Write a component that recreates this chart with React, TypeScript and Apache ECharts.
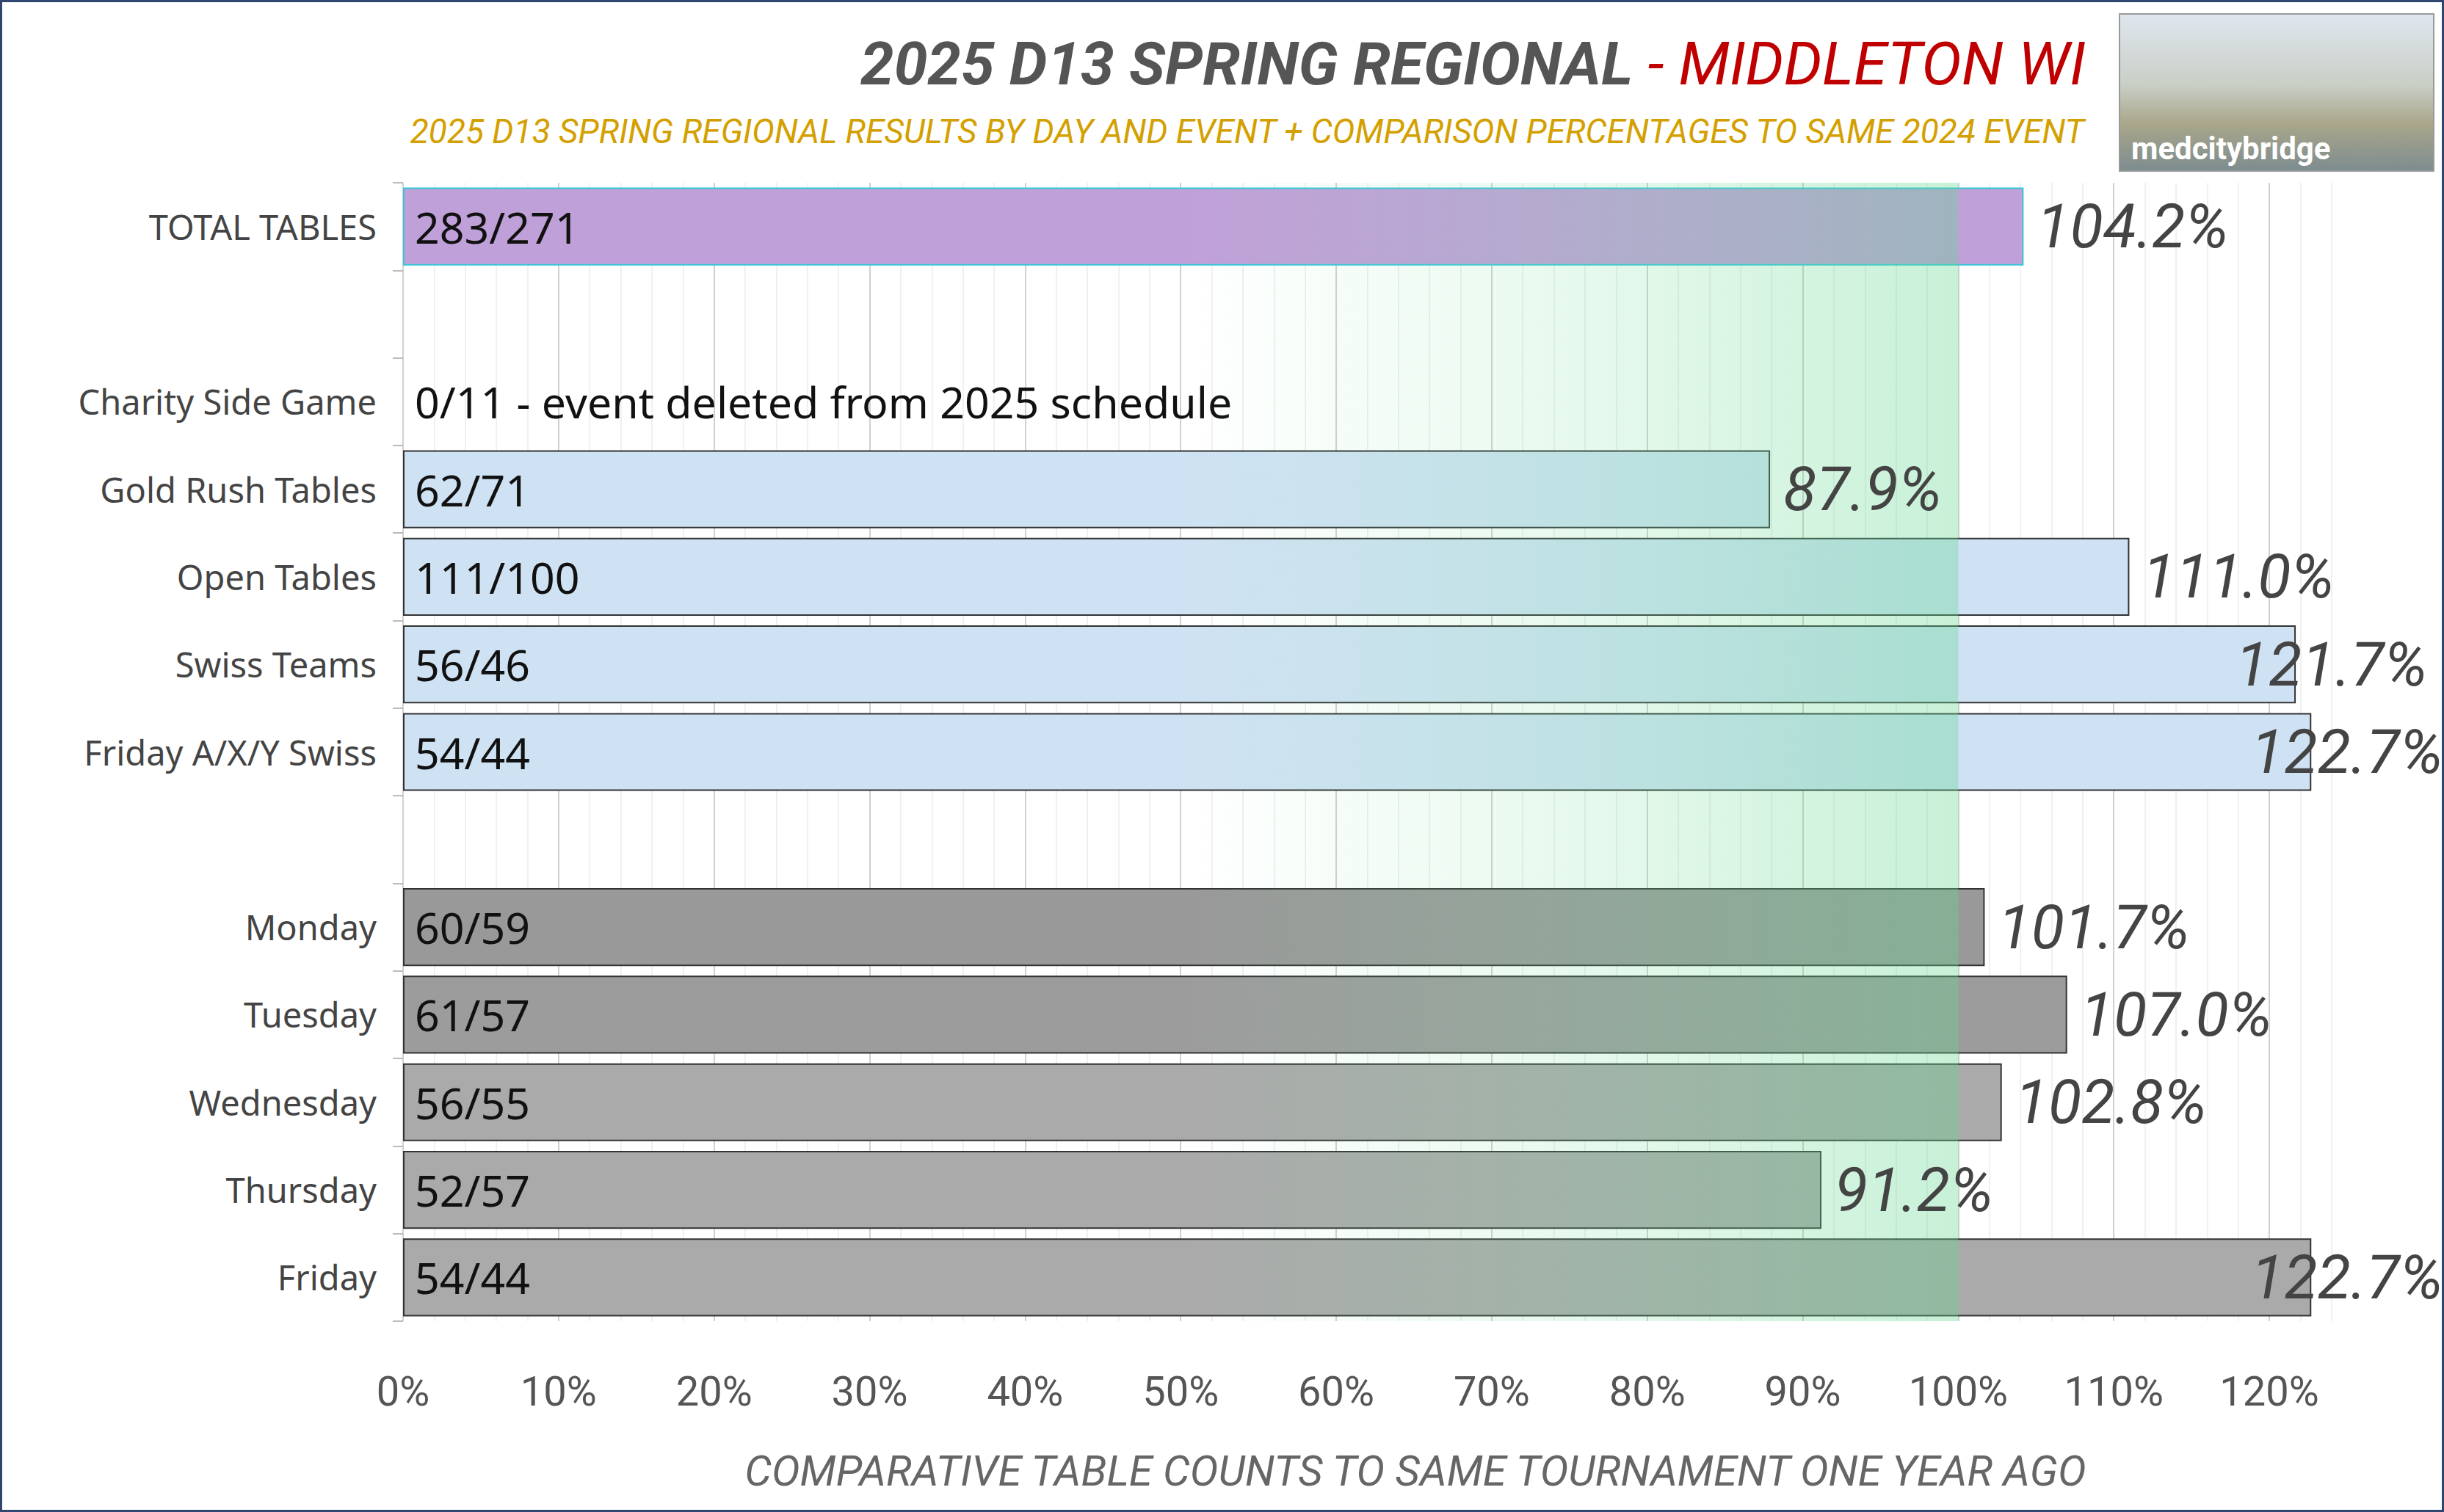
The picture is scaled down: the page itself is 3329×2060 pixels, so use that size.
import React, { useEffect, useRef } from "react";
import * as echarts from "echarts";

const categories = ["TOTAL TABLES", "", "Charity Side Game", "Gold Rush Tables", "Open Tables", "Swiss Teams", "Friday A/X/Y Swiss", " ", "Monday", "Tuesday", "Wednesday", "Thursday", "Friday"];
const percentValues: (number | null)[] = [104.2, null, 0, 87.9, 111.0, 121.7, 122.7, null, 101.7, 107.0, 102.8, 91.2, 122.7];
const countLabels = ["283/271", "", "0/11 - event deleted from 2025 schedule", "62/71", "111/100", "56/46", "54/44", "", "60/59", "61/57", "56/55", "52/57", "54/44"];
const barColors = ["#c0a0d8", "", "#cfe2f3", "#cfe2f3", "#cfe2f3", "#cfe2f3", "#cfe2f3", "", "#999999", "#9c9c9c", "#aaaaaa", "#aaaaaa", "#aaaaaa"];
const xTicks = [0, 10, 20, 30, 40, 50, 60, 70, 80, 90, 100, 110, 120];

export default function App() {
  const ref = useRef<HTMLDivElement>(null);
  useEffect(() => {
    const chart = echarts.init(ref.current!, null, { renderer: "svg" });
    const rev = (a: any[]) => a.slice().reverse();
    const cats = rev(categories);
    const vals = rev(percentValues);
    const counts = rev(countLabels);
    const cols = rev(barColors);
    const mainData = vals.map((v, i) => {
      if (v === null) return { value: null };
      const isTotal = cats[i] === "TOTAL TABLES";
      const isCharity = cats[i] === "Charity Side Game";
      return {
        value: v,
        itemStyle: {
          color: cols[i],
          borderColor: isTotal ? "#33c6d8" : "#333333",
          borderWidth: isCharity ? 0 : 2,
        },
        label: isCharity ? { position: "right", distance: 16 } : undefined,
      };
    });
    const pctData = vals.map((v) => {
      if (v === null || v === 0) return { value: null };
      return { value: v, label: v > 120 ? { offset: [-100, 0] } : undefined };
    });
    const splitColors = xTicks.map(() => "#d0d0d0").concat(["rgba(0,0,0,0)"]);
    chart.setOption({
      animation: false,
      backgroundColor: "#ffffff",
      grid: { left: 546, right: 129, top: 246, bottom: 257, containLabel: false },
      title: [
        {
          text: "{a|2025 D13 SPRING REGIONAL}{b| - MIDDLETON WI}",
          right: 480, top: 38,
          textStyle: {
            rich: {
              a: { fontFamily: "Roboto", fontSize: 82, fontWeight: "bold", fontStyle: "italic", color: "#555555" },
              b: { fontFamily: "Roboto", fontSize: 82, fontWeight: "normal", fontStyle: "italic", color: "#c00000" },
            },
          },
        },
        {
          text: "2025 D13 SPRING REGIONAL RESULTS BY DAY AND EVENT + COMPARISON PERCENTAGES TO SAME 2024 EVENT",
          right: 480, top: 148,
          textStyle: { fontFamily: "Roboto", fontSize: 46, fontStyle: "italic", fontWeight: "normal", color: "#d4a000" },
        },
      ],
      graphic: [
        {
          type: "rect", shape: { x: 2884, y: 16, width: 428, height: 214 },
          style: {
            fill: new echarts.graphic.LinearGradient(0, 0, 0, 1, [
              { offset: 0, color: "#dfe6ee" }, { offset: 0.45, color: "#c9cfc6" }, { offset: 0.7, color: "#a9a68a" }, { offset: 1, color: "#7d8c90" },
            ]),
            stroke: "#999", lineWidth: 2,
          },
        },
        {
          type: "text", x: 2900, y: 178,
          style: { text: "medcitybridge", fill: "#ffffff", fontSize: 42, fontFamily: "Roboto", fontWeight: "bold" },
        },
      ],
      xAxis: {
        type: "value", min: 0, max: 125, interval: 10,
        name: "COMPARATIVE TABLE COUNTS TO SAME TOURNAMENT ONE YEAR AGO",
        nameLocation: "middle", nameGap: 175,
        nameTextStyle: { fontFamily: "Roboto", fontSize: 58, fontStyle: "italic", color: "#666666", padding: [0, 0, 0, 110] },
        axisLine: { show: false }, axisTick: { show: false },
        axisLabel: {
          fontFamily: "Roboto", fontSize: 56, color: "#555555", margin: 68,
          formatter: (v: number) => (xTicks.includes(v) ? v + "%" : ""),
        },
        splitLine: { show: true, lineStyle: { color: splitColors, width: 2 } },
        minorTick: { show: false, splitNumber: 5 },
        minorSplitLine: { show: true, lineStyle: { color: "#ebebeb", width: 1.5 } },
      },
      yAxis: {
        type: "category", data: cats,
        axisLine: { show: false },
        axisTick: { show: true, length: 14, lineStyle: { color: "#bbbbbb", width: 2 } },
        axisLabel: { fontFamily: "Noto Sans", fontSize: 47, color: "#444444", margin: 36 },
        splitLine: { show: false },
      },
      series: [
        {
          type: "bar", data: mainData, barWidth: "89%", z: 2,
          label: {
            show: true, position: "insideLeft", distance: 16,
            fontFamily: "Noto Sans", fontSize: 59, color: "#111111",
            formatter: (p: any) => counts[p.dataIndex],
          },
        },
        {
          type: "bar", data: pctData, barWidth: "89%", barGap: "-100%", z: 4,
          itemStyle: { color: "rgba(0,0,0,0)" },
          label: {
            show: true, position: "right", distance: 18,
            fontFamily: "Roboto", fontSize: 83, fontStyle: "italic", color: "#444444",
            formatter: (p: any) => p.value.toFixed(1) + "%",
          },
        },
        {
          type: "scatter", data: [], z: 3,
          markArea: {
            silent: true, z: 3,
            itemStyle: {
              color: new echarts.graphic.LinearGradient(0, 0, 1, 0, [
                { offset: 0, color: "rgba(140,230,170,0)" },
                { offset: 1, color: "rgba(100,215,145,0.36)" },
              ]),
            },
            data: [[{ xAxis: 50 }, { xAxis: 100 }]],
          },
        },
      ],
    });
    return () => chart.dispose();
  }, []);
  return (
    <div
      ref={ref}
      style={{ position: "absolute", left: 0, top: 0, width: 3329, height: 2060, boxSizing: "border-box", border: "3px solid #2f4670" }}
    />
  );
}
